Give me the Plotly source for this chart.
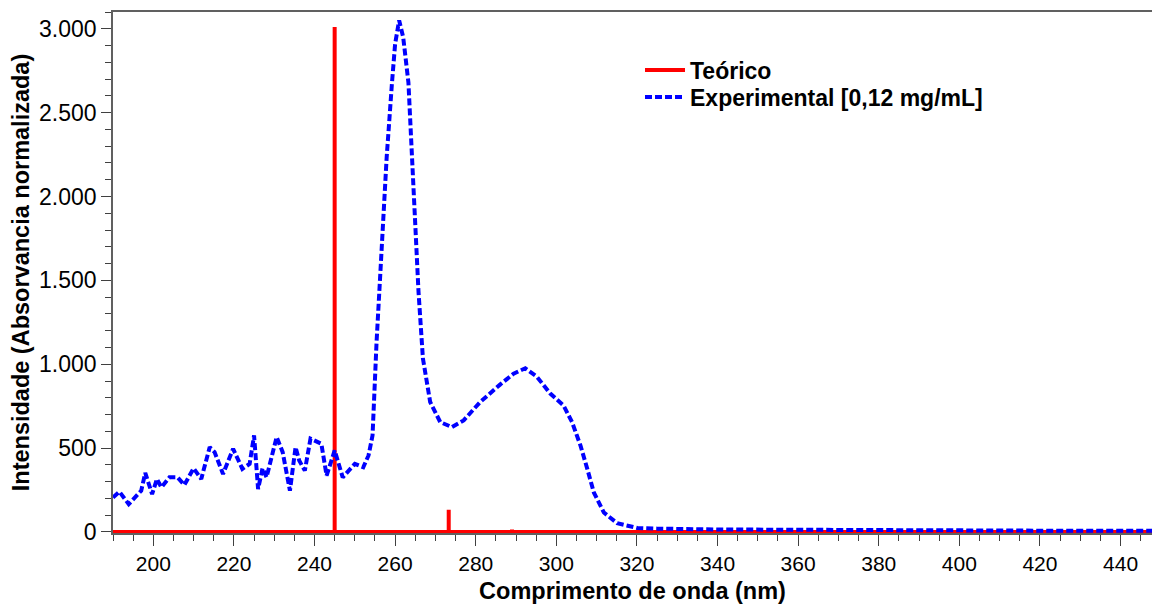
import plotly.graph_objects as go

# Experimental spectrum (nm, normalized absorbance)
exp_nm = [190, 191.6, 193.9, 197, 198, 199.7, 200.9, 202, 204, 206, 207.7, 210, 211.9,
          214, 215.2, 217.3, 219.8, 222.1, 223.9, 225, 226, 227.1, 228.1, 230.6, 232.1,
          233.9, 235.3, 236.2, 237.6, 239, 241.7, 243, 245, 247, 250, 252.1, 253.4,
          254.4, 255.4, 256.7, 257.9, 259.2, 260, 261, 262, 263.3, 264.1, 264.9, 265.8,
          266.9, 268.7, 271.2, 274.1, 277, 281.1, 286.1, 289.4, 292.3, 295.2, 298.5,
          301.8, 303.9, 306, 307.7, 309.3, 311.8, 315.1, 320.1, 325, 340, 360, 380,
          400, 420, 440, 448]
exp_val = [206, 240, 166, 246, 352, 226, 316, 266, 326, 326, 280, 380, 316,
           506, 476, 346, 496, 376, 406, 576, 256, 380, 326, 566, 476,
           246, 506, 426, 366, 556, 526, 336, 486, 326, 406, 386, 456,
           576, 1134, 1733, 2232, 2671, 2910, 3050, 2950, 2680, 2300, 1832, 1434,
           1034, 775, 655, 625, 665, 775, 880, 944, 976, 925, 825,
           754, 655, 515, 375, 236, 116, 52, 24, 20, 15, 12, 10,
           9, 8, 7, 7]

# Theoretical transitions (stick spectrum)
theo_nm = [245, 273.3, 289]
theo_val = [3010, 132, 15]
x_min, x_max = 190, 447.8

# Build stick line: baseline at 0 with vertical spikes
tx, ty = [x_min], [0]
for n, v in zip(theo_nm, theo_val):
    tx += [n, n, n]
    ty += [0, v, 0]
tx.append(x_max + 5)
ty.append(0)

fig = go.Figure()
fig.add_trace(go.Scatter(x=tx, y=ty, mode="lines", name="Teórico", legend="legend",
                         line=dict(color="#ff0000", width=4)))
fig.add_trace(go.Scatter(x=exp_nm, y=exp_val, mode="lines", legend="legend2",
                         name="Experimental [0,12 mg/mL]",
                         line=dict(color="#0000ff", width=4, dash="7px,3px")))

leg_common = dict(xanchor="left", yanchor="middle", bgcolor="rgba(0,0,0,0)",
                  itemwidth=40, borderwidth=0,
                  font=dict(size=23, weight="bold", color="black",
                            family="Liberation Sans, Arial, sans-serif"))
H = 532.7 - 12
fig.update_layout(
    width=1152, height=604,
    margin=dict(l=113, r=0, t=12, b=71, autoexpand=False),
    paper_bgcolor="white", plot_bgcolor="white",
    separators=",.",
    font=dict(family="Liberation Sans, Arial, sans-serif", color="black"),
    legend=dict(x=(640 - 113) / 1039, y=(532.7 - 70) / H, **leg_common),
    legend2=dict(x=(640 - 113) / 1039, y=(532.7 - 97) / H, **leg_common),
    showlegend=True,
)
fig.update_xaxes(
    range=[x_min, x_max], dtick=20, tick0=0, automargin=False,
    showgrid=False, zeroline=False,
    showline=True, linecolor="#606060", linewidth=2, mirror=True,
    ticks="outside", ticklen=11, tickcolor="#404040", tickwidth=1.3,
    minor=dict(dtick=5, ticks="outside", ticklen=6, tickcolor="#404040", tickwidth=1.3),
    tickfont=dict(size=21, family="Liberation Sans, Arial", color="black"),
    title=dict(text="Comprimento de onda (nm)", standoff=10,
               font=dict(size=23.5, weight="bold", color="black")),
)
fig.update_yaxes(
    range=[-6, 3100], dtick=500, tick0=0, tickformat=",", automargin=False,
    showgrid=False, zeroline=False,
    showline=True, linecolor="#606060", linewidth=1.5, mirror=False,
    ticks="outside", ticklen=10, tickcolor="#404040", tickwidth=1.3,
    minor=dict(dtick=100, ticks="outside", ticklen=6, tickcolor="#404040", tickwidth=1.3),
    tickfont=dict(size=23, family="Liberation Sans, Arial", color="black"),
    title=dict(text="Intensidade (Absorvancia normalizada)", standoff=3,
               font=dict(size=23.5, weight="bold", color="black")),
)

fig.write_html("out.html", config={"displayModeBar": False},
               post_script="document.body.style.margin='0';")
